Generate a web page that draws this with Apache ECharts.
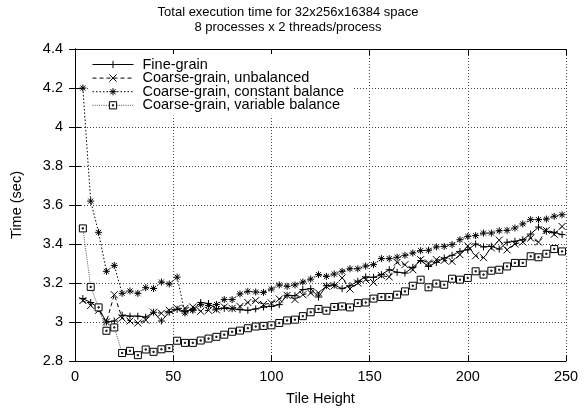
<!DOCTYPE html>
<html>
<head>
<meta charset="utf-8">
<script src="https://cdn.jsdelivr.net/npm/echarts/dist/echarts.min.js"></script>
<style>
  html, body { margin: 0; padding: 0; background: #fff; }
  #main { width: 586px; height: 413px; }
</style>
</head>
<body>
<div id="main"></div>
<script>
"use strict";
// tile heights on the x axis
let tileHeight = [4, 8, 12, 16, 20, 24, 28, 32, 36, 40, 44, 48, 52, 56, 60, 64, 68, 72, 76, 80,
    84, 88, 92, 96, 100, 104, 108, 112, 116, 120, 124, 128, 132, 136, 140, 144, 148, 152, 156, 160,
    164, 168, 172, 176, 180, 184, 188, 192, 196, 200, 204, 208, 212, 216, 220, 224, 228, 232, 236, 240,
    244, 248];

// time (sec) per series
let fineGrain = [3.12, 3.10, 3.07, 3.00, 3.005, 3.035, 3.03, 3.03, 3.025, 3.05,
    3.005, 3.05, 3.065, 3.055, 3.065, 3.10, 3.095, 3.067, 3.07, 3.068,
    3.063, 3.06, 3.067, 3.077, 3.08, 3.089, 3.137, 3.135, 3.166, 3.171,
    3.128, 3.186, 3.19, 3.171, 3.186, 3.209, 3.231, 3.229, 3.243, 3.268,
    3.255, 3.251, 3.28, 3.315, 3.285, 3.306, 3.328, 3.342, 3.362, 3.371,
    3.40, 3.385, 3.388, 3.374, 3.409, 3.414, 3.422, 3.451, 3.487, 3.465,
    3.46, 3.448];
let coarseUnbalanced = [3.11, 3.085, 3.06, 3.00, 3.14, 3.02, 3.005, 2.995, 3.01, 3.05,
    3.045, 3.06, 3.07, 3.07, 3.077, 3.055, 3.06, 3.063, 3.077, 3.07,
    3.08, 3.10, 3.11, 3.09, 3.097, 3.118, 3.137, 3.115, 3.14, 3.149,
    3.149, 3.183, 3.186, 3.226, 3.169, 3.20, 3.217, 3.203, 3.238, 3.231,
    3.306, 3.294, 3.268, 3.32, 3.303, 3.32, 3.316, 3.311, 3.345, 3.39,
    3.34, 3.33, 3.38, 3.42, 3.37, 3.40, 3.41, 3.43, 3.41, 3.47,
    3.45, 3.49];
let coarseConstant = [4.20, 3.62, 3.46, 3.26, 3.29, 3.147, 3.159, 3.147, 3.176, 3.172,
    3.205, 3.195, 3.23, 3.046, 3.06, 3.089, 3.084, 3.09, 3.115, 3.115,
    3.144, 3.157, 3.154, 3.152, 3.169, 3.19, 3.183, 3.19, 3.205, 3.22,
    3.243, 3.234, 3.246, 3.26, 3.273, 3.273, 3.287, 3.294, 3.325, 3.325,
    3.332, 3.342, 3.354, 3.366, 3.368, 3.385, 3.388, 3.397, 3.422, 3.439,
    3.443, 3.456, 3.456, 3.468, 3.47, 3.482, 3.503, 3.525, 3.525, 3.528,
    3.542, 3.55];
let coarseVariable = [3.48, 3.18, 3.075, 2.955, 2.972, 2.841, 2.852, 2.83, 2.859, 2.847,
    2.86, 2.866, 2.904, 2.893, 2.893, 2.905, 2.915, 2.924, 2.935, 2.95,
    2.956, 2.968, 2.977, 2.98, 2.983, 2.995, 3.008, 3.012, 3.03, 3.05,
    3.067, 3.058, 3.077, 3.08, 3.075, 3.097, 3.10, 3.12, 3.128, 3.128,
    3.14, 3.157, 3.186, 3.217, 3.178, 3.197, 3.191, 3.222, 3.217, 3.226,
    3.26, 3.243, 3.263, 3.268, 3.285, 3.303, 3.303, 3.337, 3.332, 3.35,
    3.374, 3.362];

let seriesNames = ['Fine-grain', 'Coarse-grain, unbalanced', 'Coarse-grain, constant balance', 'Coarse-grain, variable balance'];

let FONT = '"Liberation Sans", Arial, Helvetica, sans-serif';

// gnuplot style point marks
let markPlus = 'path://M0,-5L0,5M-5,0L5,0';
let markCross = 'path://M-5,-5L5,5M-5,5L5,-5';
let markStar = 'path://M0,-5L0,5M-5,0L5,0M-3.6,-3.6L3.6,3.6M-3.6,3.6L3.6,-3.6';
let markBox = 'path://M-5,-5L5,-5L5,5L-5,5ZM-0.9,-0.9L0.9,-0.9L0.9,0.9L-0.9,0.9Z';

function pairs(values) {
    let out = [];
    for (let i = 0; i < tileHeight.length; i++) {
        out.push([tileHeight[i], values[i]]);
    }
    return out;
}

function makeSeries(name, values, symbol, size, lineType, lineColor, fill) {
    return {
        name: name,
        type: 'line',
        data: pairs(values),
        symbol: symbol,
        symbolSize: size,
        showSymbol: true,
        showAllSymbol: true,
        lineStyle: { color: lineColor, width: 1, type: lineType },
        itemStyle: { color: fill, borderColor: '#000', borderWidth: 1 },
        emphasis: { disabled: true }
    };
}

let myChart = echarts.init(document.getElementById('main'));

let gridLine = { show: true, lineStyle: { color: '#444', type: [1, 2], width: 1 } };
let frameLine = { show: true, lineStyle: { color: '#000', width: 1 } };
let tickIn = { show: true, inside: true, length: 6, lineStyle: { color: '#000' } };

let option = {
    animation: false,
    backgroundColor: '#fff',
    title: {
        text: 'Total execution time for 32x256x16384 space\n8 processes x 2 threads/process',
        left: 283,
        top: 0,
        textAlign: 'center',
        textStyle: { fontFamily: FONT, fontSize: 13, fontWeight: 'normal', color: '#000', lineHeight: 15 }
    },
    legend: {
        orient: 'vertical',
        left: 88,
        top: 54,
        padding: [3, 10, 3, 4],
        backgroundColor: '#fff',
        itemWidth: 41,
        itemHeight: 9,
        itemGap: -1.4,
        selectedMode: false,
        data: seriesNames,
        lineStyle: { width: 1 },
        itemStyle: { borderWidth: 1 },
        textStyle: { fontFamily: FONT, fontSize: 14.5, color: '#000', padding: [0, 0, 0, 4] }
    },
    grid: { left: 75, right: 20, top: 49, bottom: 52 },
    xAxis: [{
        type: 'value',
        min: 0, max: 250, interval: 50,
        name: 'Tile Height',
        nameLocation: 'middle',
        nameGap: 30,
        nameTextStyle: { fontFamily: FONT, fontSize: 14.5, color: '#000' },
        axisLine: frameLine,
        axisTick: tickIn,
        axisLabel: { fontFamily: FONT, fontSize: 14.5, color: '#000', margin: 8 },
        splitLine: gridLine
    }, {
        type: 'value', position: 'top',
        min: 0, max: 250, interval: 50,
        axisLine: frameLine, axisTick: tickIn,
        axisLabel: { show: false }, splitLine: { show: false }
    }],
    yAxis: [{
        type: 'value',
        min: 2.8, max: 4.4, interval: 0.2,
        name: 'Time (sec)',
        nameLocation: 'middle',
        nameRotate: 90,
        nameGap: 51,
        nameTextStyle: { fontFamily: FONT, fontSize: 14.5, color: '#000' },
        axisLine: frameLine,
        axisTick: tickIn,
        axisLabel: { fontFamily: FONT, fontSize: 14.5, color: '#000', margin: 12 },
        splitLine: gridLine
    }, {
        type: 'value', position: 'right',
        min: 2.8, max: 4.4, interval: 0.2,
        axisLine: frameLine, axisTick: tickIn,
        axisLabel: { show: false }, splitLine: { show: false }
    }],
    series: [
        makeSeries(seriesNames[0], fineGrain, markPlus, 7, 'solid', '#000', '#000'),
        makeSeries(seriesNames[1], coarseUnbalanced, markCross, 7, [4, 3], '#000', '#000'),
        makeSeries(seriesNames[2], coarseConstant, markStar, 7, [1.5, 2], '#000', '#000'),
        makeSeries(seriesNames[3], coarseVariable, markBox, 7, [1, 1.2], '#555', '#fff')
    ]
};
myChart.setOption(option);
</script>
</body>
</html>
